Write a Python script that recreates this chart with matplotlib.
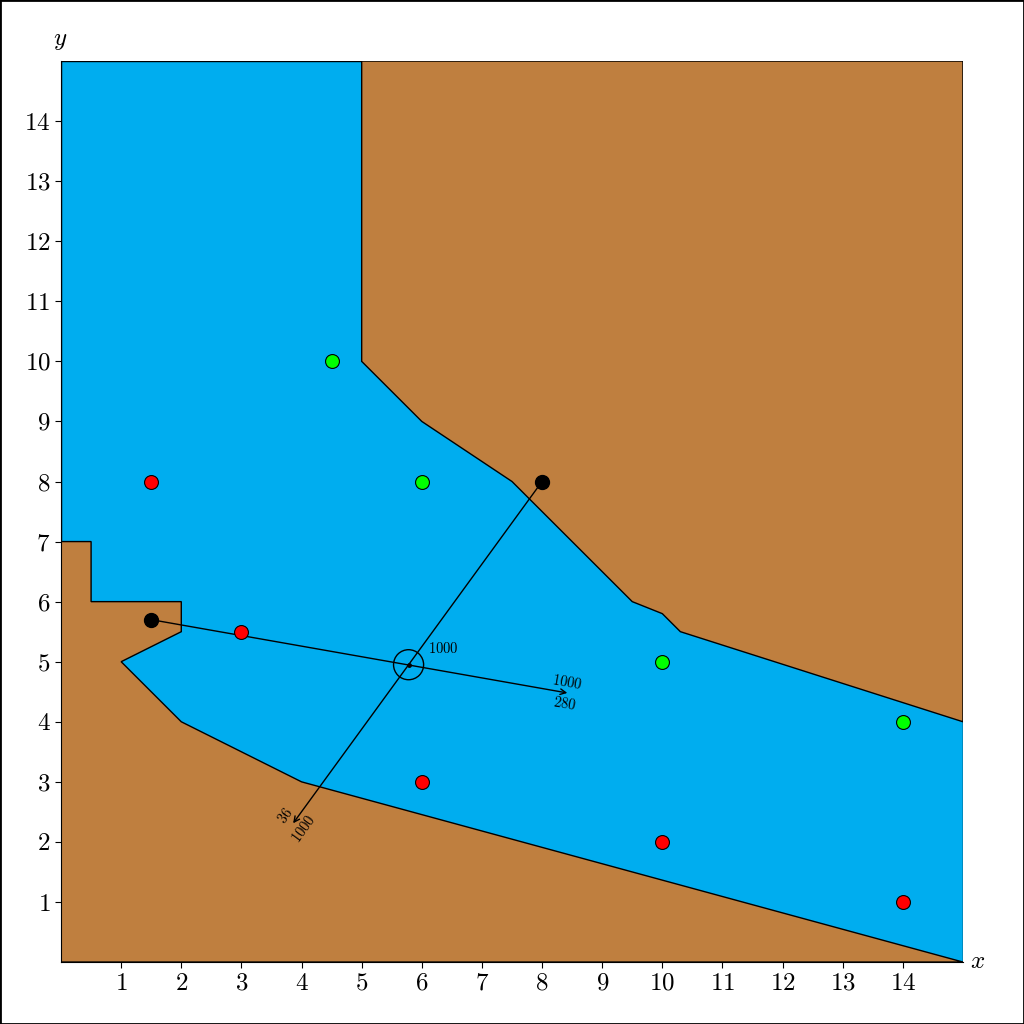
import numpy as np
import matplotlib.pyplot as plt
from matplotlib.patches import Polygon, Circle, Rectangle

plt.rcParams['mathtext.fontset'] = 'cm'
plt.rcParams['font.family'] = 'serif'
plt.rcParams['font.serif'] = ['cmr10', 'DejaVu Serif']
plt.rcParams['axes.formatter.use_mathtext'] = True

# regiões (polígonos) em cima do fundo azul
upper_x = [5, 5, 6, 7.5, 9.5, 10, 10.3, 15, 15]
upper_y = [15, 10, 9, 8, 6, 5.8, 5.5, 4, 15]
lower_x = [0, 0.5, 0.5, 2, 2, 1, 2, 4, 15, 0]
lower_y = [7, 7, 6, 6, 5.5, 5, 4, 3, 0, 0]

# pontos
red_x = [1.5, 3, 6, 10, 14]
red_y = [8, 5.5, 3, 2, 1]
green_x = [4.5, 6, 10, 14]
green_y = [10, 8, 5, 4]
black_x = [1.5, 8]
black_y = [5.7, 8]

# retas (início -> fim com seta)
ray_start = [(1.5, 5.7), (8, 8)]
ray_end = [(8.42, 4.48), (3.86, 2.31)]
center = (5.78, 4.95)
ray_labels = [("1000", "280"), ("36", "1000")]

fig = plt.figure(figsize=(10.24, 10.24), dpi=100)
ax = fig.add_axes([0.0596, 0.0605, 0.9404 - 0.0596, 0.9404 - 0.0605])

blue = '#00ADEF'
brown = '#BF7F3F'

ax.add_patch(Rectangle((0, 0), 15, 15, facecolor=blue, edgecolor='black', lw=1, zorder=1))
ax.add_patch(Polygon(np.column_stack([upper_x, upper_y]), closed=True,
                     facecolor=brown, edgecolor='black', lw=1, zorder=2))
ax.add_patch(Polygon(np.column_stack([lower_x, lower_y]), closed=True,
                     facecolor=brown, edgecolor='black', lw=1, zorder=2))

for (x0, y0), (x1, y1) in zip(ray_start, ray_end):
    ax.annotate('', xy=(x1, y1), xytext=(x0, y0),
                arrowprops=dict(arrowstyle='->', lw=1, color='black',
                                shrinkA=0, shrinkB=0), zorder=3)

ax.add_patch(Circle(center, 0.25, fill=False, edgecolor='black', lw=1, zorder=4))
ax.plot(center[0], center[1], 'o', color='black', ms=2.5, zorder=4)

fs = 10.5
ax.text(6.35, 5.22, '$1000$', fontsize=fs, ha='center', va='center')
ax.text(8.42, 4.65, '$' + ray_labels[0][0] + '$', fontsize=fs, rotation=-10,
        ha='center', va='center')
ax.text(8.37, 4.3, '$' + ray_labels[0][1] + '$', fontsize=fs, rotation=-10,
        ha='center', va='center')
ax.text(3.73, 2.44, '$' + ray_labels[1][0] + '$', fontsize=fs, rotation=54,
        ha='center', va='center')
ax.text(4.04, 2.22, '$' + ray_labels[1][1] + '$', fontsize=fs, rotation=54,
        ha='center', va='center')

ax.plot(red_x, red_y, 'o', ms=10, mfc='red', mec='black', mew=0.8, zorder=5)
ax.plot(green_x, green_y, 'o', ms=10, mfc='#00FF00', mec='black', mew=0.8, zorder=5)
ax.plot(black_x, black_y, 'o', ms=10, mfc='black', mec='black', zorder=5)

ax.set_xlim(0, 15)
ax.set_ylim(0, 15)
ticks = np.arange(1, 15)
ax.set_xticks(ticks)
ax.set_yticks(ticks)
ax.set_xticklabels([f'${t}$' for t in ticks])
ax.set_yticklabels([f'${t}$' for t in ticks])
ax.tick_params(labelsize=18, length=4, direction='out')
for s in ['top', 'right']:
    ax.spines[s].set_visible(False)

ax.text(-0.02, 15.15, '$y$', fontsize=18, ha='center', va='bottom')
ax.text(15.12, 0.0, '$x$', fontsize=18, ha='left', va='center')

fig.patches.append(Rectangle((0, 0), 1, 1, transform=fig.transFigure,
                             fill=False, edgecolor='black', lw=2))

fig.savefig('out.png', dpi=100)
